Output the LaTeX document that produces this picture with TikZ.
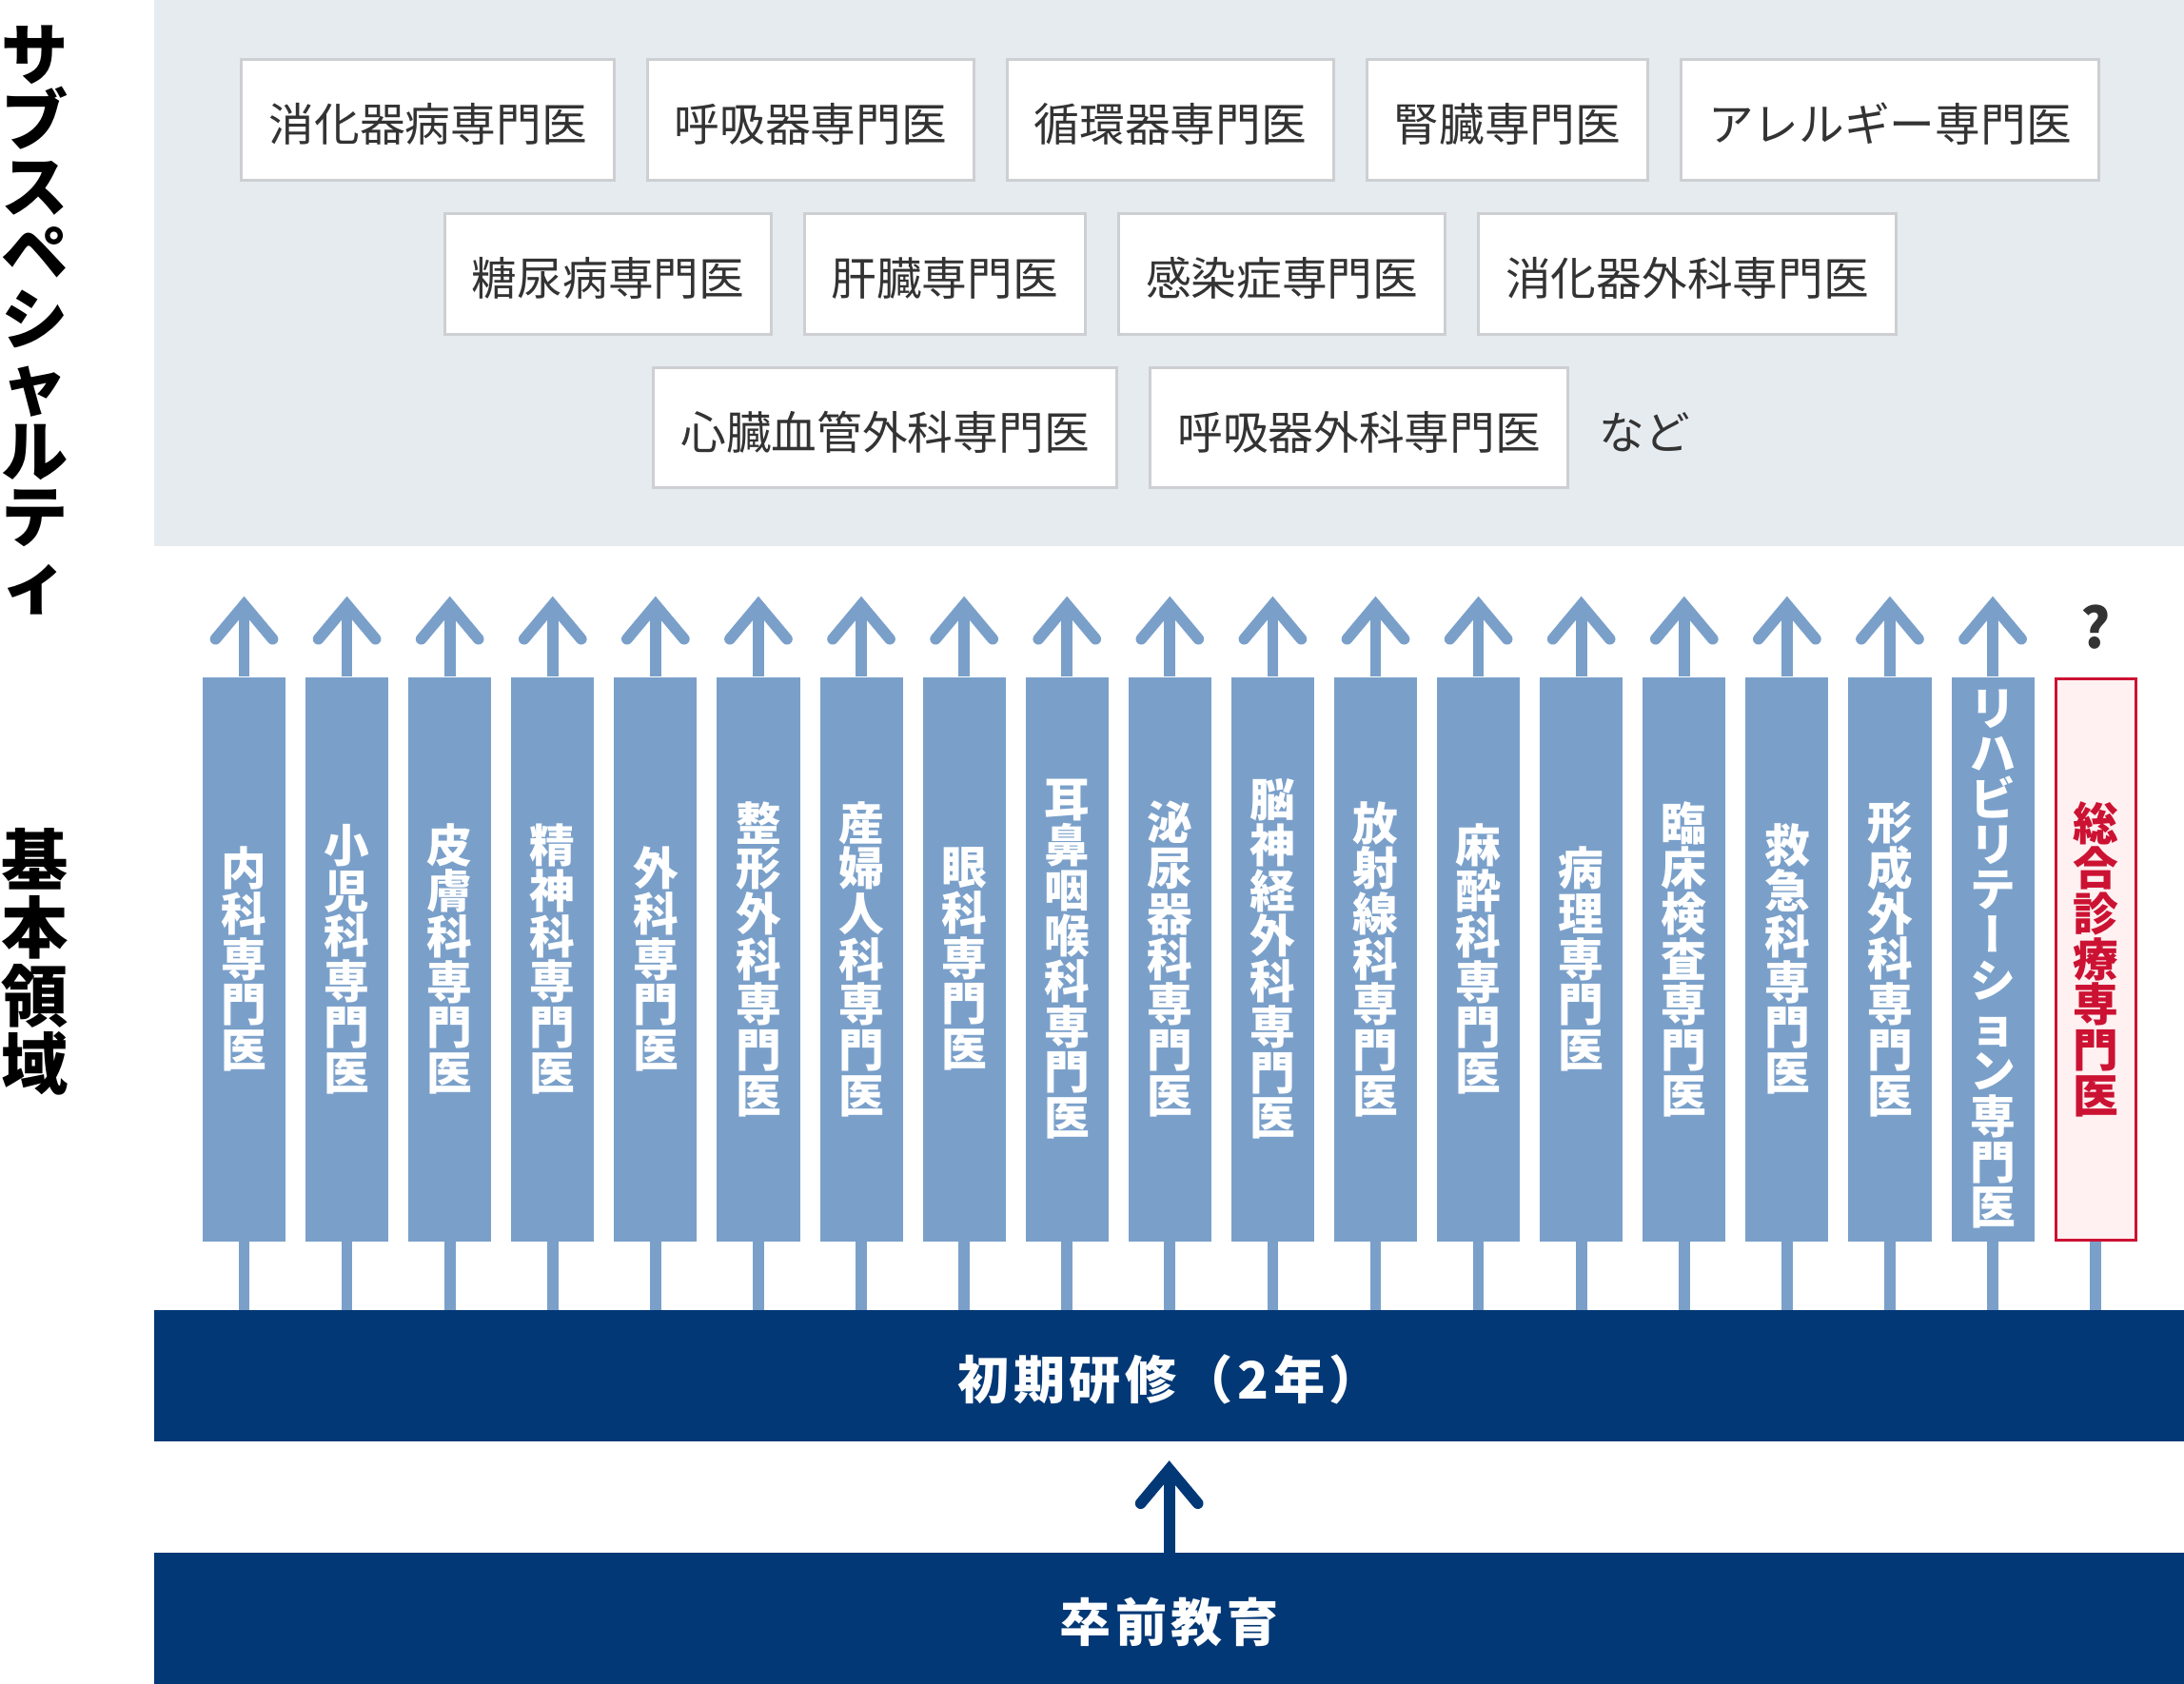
\documentclass[tikz,border=0pt]{standalone}
\usepackage{fontspec}
\newfontfamily\jp{Noto Sans CJK JP}
\newfontfamily\jpv[RawFeature=+vert]{Noto Sans CJK JP}
\newfontfamily\jpls[LetterSpace=8.6]{Noto Sans CJK JP}
\usetikzlibrary{calc}
\definecolor{panelgray}{HTML}{E6EBF0}
\definecolor{boxgray}{HTML}{CDCFD2}
\definecolor{textgray}{HTML}{333333}
\definecolor{colblue}{HTML}{7AA0CA}
\definecolor{navy}{HTML}{023876}
\definecolor{redc}{HTML}{CC1233}
\definecolor{redfill}{HTML}{FFF0F1}
\tikzset{
  subbox/.style={draw=boxgray, line width=2pt, fill=white, inner sep=0pt,
    minimum height=86.6pt, text=textgray,
    font=\jp\fontsize{32.6}{32.6}\selectfont, text height=30.8pt, text depth=0pt},
  colbox/.style={fill=colblue, inner sep=0pt, minimum width=59.5pt, minimum height=405.1pt,
    align=center, text=white, font=\jp\bfseries\fontsize{32.6}{32.6}\selectfont},
  redbox/.style={colbox, fill=redfill, draw=redc, line width=2pt, text=redc,
    minimum width=57.5pt, minimum height=403.1pt},
  bar/.style={fill=navy, inner sep=0pt, minimum width=1457.1pt, minimum height=94.3pt,
    text=white, font=\jpls\bfseries\fontsize{37}{37}\selectfont, text height=33.6pt, text depth=0pt},
  sidelabel/.style={inner sep=0pt, align=center, text=black},
  colline/.style={draw=colblue, line width=8pt},
  navyline/.style={draw=navy, line width=8pt},
  chev/.style={line cap=round, line join=miter}
}
\begin{document}
\begin{tikzpicture}[x=1pt, y=-1pt]
\useasboundingbox (0,0) rectangle (1568,1209.3);
% subspecialty panel
\fill[panelgray] (110.9,0) rectangle (1568,392.5);
\node[subbox, minimum width=267.9pt] (s1) at (307.35,86.0) {消化器病専門医};
\node[subbox, minimum width=234.4pt] (s2) at (582.1,86.0) {呼吸器専門医};
\node[subbox, minimum width=234.2pt] (s3) at (840.3,86.0) {循環器専門医};
\node[subbox, minimum width=202pt] (s4) at (1082.2,86.0) {腎臓専門医};
\node[subbox, minimum width=299.7pt] (s5) at (1356.85,86.0) {アレルギー専門医};
\node[subbox, minimum width=234.4pt] (s6) at (436.6,196.7) {糖尿病専門医};
\node[subbox, minimum width=201.6pt] (s7) at (678.2,196.7) {肝臓専門医};
\node[subbox, minimum width=234.1pt] (s8) at (920.45,196.7) {感染症専門医};
\node[subbox, minimum width=300pt] (s9) at (1211.4,196.7) {消化器外科専門医};
\node[subbox, minimum width=332.8pt] (s10) at (635.4,307.1) {心臓血管外科専門医};
\node[subbox, minimum width=299.8pt] (s11) at (975.8,307.1) {呼吸器外科専門医};
\node[anchor=west, inner sep=0pt, text=textgray, font=\jp\fontsize{32.6}{32.6}\selectfont,
  text height=30.8pt, text depth=0pt] (etc) at (1148,307.1) {など};
% side labels
\node[sidelabel, font=\jp\bfseries\fontsize{48}{47.5}\selectfont] (l1) at (25,229.75)
  {サ\\ブ\\ス\\ペ\\シ\\ャ\\ル\\テ\\ィ};
\node[sidelabel, font=\jp\bfseries\fontsize{48}{48.8}\selectfont] (l2) at (25,690.65)
  {基\\本\\領\\域};
% bars
\node[bar] (b1) at (839.45,987.8) {初期研修（2年）};
\node[bar] (b2) at (839.45,1162.15) {卒前教育};
% columns
\foreach \t [count=\i from 0] in {
  {内\\科\\専\\門\\医},
  {小\\児\\科\\専\\門\\医},
  {皮\\膚\\科\\専\\門\\医},
  {精\\神\\科\\専\\門\\医},
  {外\\科\\専\\門\\医},
  {整\\形\\外\\科\\専\\門\\医},
  {産\\婦\\人\\科\\専\\門\\医},
  {眼\\科\\専\\門\\医},
  {耳\\鼻\\咽\\喉\\科\\専\\門\\医},
  {泌\\尿\\器\\科\\専\\門\\医},
  {脳\\神\\経\\外\\科\\専\\門\\医},
  {放\\射\\線\\科\\専\\門\\医},
  {麻\\酔\\科\\専\\門\\医},
  {病\\理\\専\\門\\医},
  {臨\\床\\検\\査\\専\\門\\医},
  {救\\急\\科\\専\\門\\医},
  {形\\成\\外\\科\\専\\門\\医},
  {リ\\ハ\\ビ\\リ\\テ\\{\jpv ー}\\シ\\ョ\\ン\\専\\門\\医}} {
  \node[colbox] (c\i) at ({175.25+73.85*\i},688.75) {\t};
  \draw[colline] (c\i.north) -- ($(c\i.north)+(0,-51.6)$) coordinate (t\i);
  \draw[colline, chev] ($(t\i)+(-20.5,24.5)$) -- (t\i) -- ($(t\i)+(20.5,24.5)$);
  \draw[colline] (c\i.south) -- (c\i.south |- b1.north);
}
\node[redbox] (c18) at ({175.25+73.85*18},688.75) {総\\合\\診\\療\\専\\門\\医};
\draw[colline] (c18.south) -- (c18.south |- b1.north);
\node[inner sep=0pt, text=textgray, font=\jp\bfseries\fontsize{40}{40}\selectfont] (q) at (1504.5,450) {?};
% arrow between education stages
\draw[navyline] (b2.north) -- ($(b2.north)+(0,-59.7)$) coordinate (ta);
\draw[navyline, chev] ($(ta)+(-20.5,24.5)$) -- (ta) -- ($(ta)+(20.5,24.5)$);
\end{tikzpicture}
\end{document}
